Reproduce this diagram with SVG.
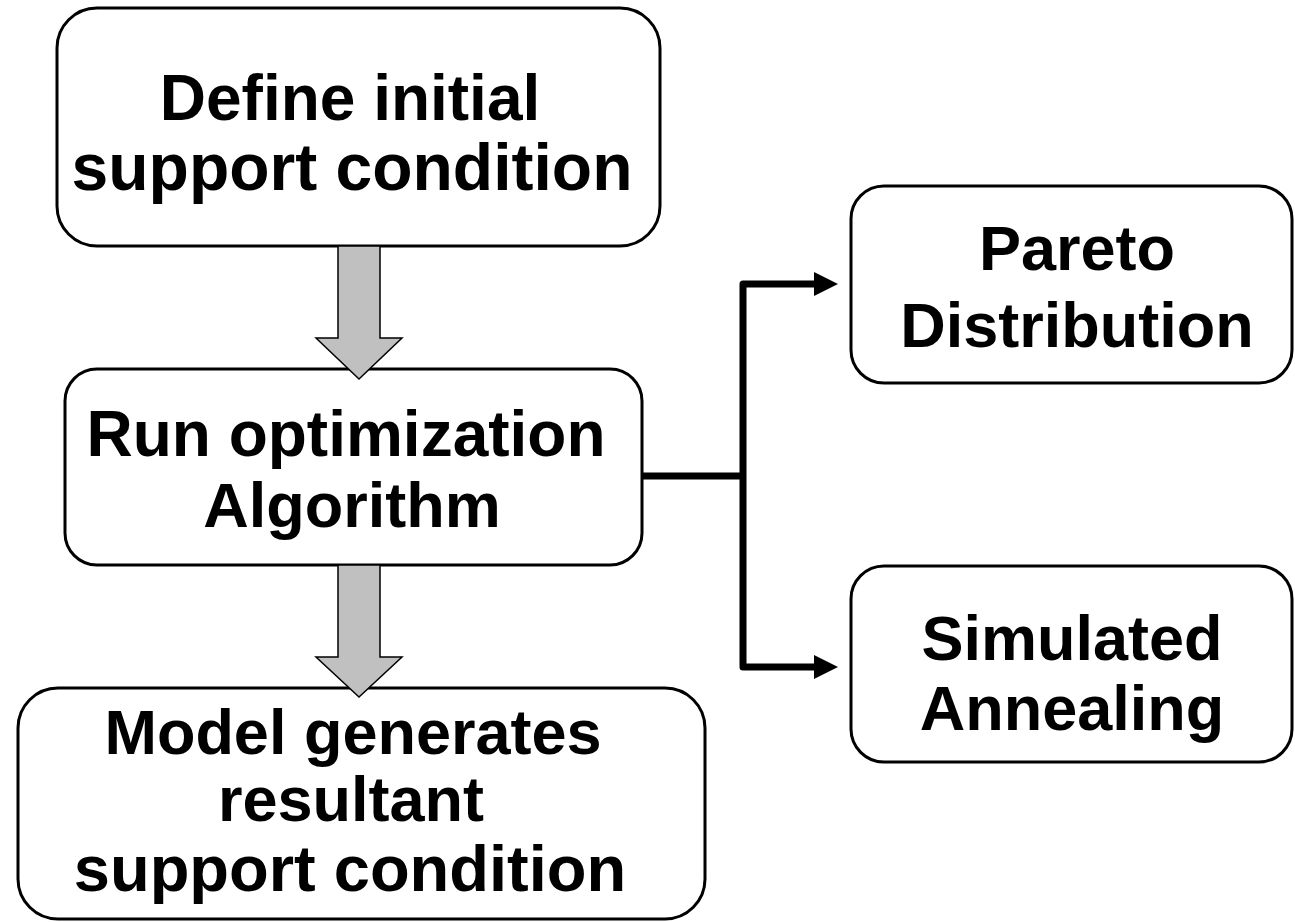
<svg xmlns="http://www.w3.org/2000/svg" width="1295" height="922" viewBox="0 0 1295 922">
  <style>
    .box { fill: #ffffff; stroke: #000000; stroke-width: 3; }
    .lbl { font-family: "Liberation Sans", Arial, sans-serif; font-weight: bold; font-size: 63px; fill: #000000; text-anchor: middle; }
    .flow { fill: #c0c0c0; stroke: #000000; stroke-width: 1.5; stroke-linejoin: miter; }
    .wire { fill: none; stroke: #000000; stroke-width: 7; stroke-linejoin: round; }
  </style>
  <defs>
    <marker id="head" markerUnits="userSpaceOnUse" markerWidth="26" markerHeight="26" refX="0" refY="12" orient="auto">
      <path d="M0,0 L24,12 L0,24 Z" fill="#000000"/>
    </marker>
  </defs>
  <rect width="1295" height="922" fill="#ffffff"/>

  <g id="node-define">
    <rect class="box" x="57" y="8" width="603" height="238" rx="40" ry="40"/>
    <text class="lbl" x="350" y="120" style="font-size:64px">Define initial</text>
    <text class="lbl" x="352" y="190" style="font-size:66px">support condition</text>
  </g>

  <g id="node-run">
    <rect class="box" x="65" y="369" width="577" height="196" rx="32" ry="32"/>
    <text class="lbl" x="346" y="456" style="font-size:64px">Run optimization</text>
    <text class="lbl" x="352" y="527">Algorithm</text>
  </g>

  <g id="node-model">
    <rect class="box" x="18" y="688" width="687" height="231" rx="40" ry="40"/>
    <text class="lbl" x="353" y="754">Model generates</text>
    <text class="lbl" x="351" y="821">resultant</text>
    <text class="lbl" x="350" y="891" style="font-size:65px">support condition</text>
  </g>

  <g id="node-pareto">
    <rect class="box" x="851" y="186" width="441" height="197" rx="33" ry="33"/>
    <text class="lbl" x="1077" y="270">Pareto</text>
    <text class="lbl" x="1077" y="347">Distribution</text>
  </g>

  <g id="node-annealing">
    <rect class="box" x="851" y="566" width="441" height="196" rx="33" ry="33"/>
    <text class="lbl" x="1072" y="660">Simulated</text>
    <text class="lbl" x="1072" y="730">Annealing</text>
  </g>

  <g id="connectors">
    <!-- block arrows between the main steps -->
    <polygon class="flow" points="338,246 380,246 380,338 402,338 359,379 316,338 338,338"/>
    <polygon class="flow" points="338,565 380,565 380,657 402,657 359,697 316,657 338,657"/>
    <!-- branch to the two methods -->
    <path class="wire" d="M643,476 H743"/>
    <path class="wire" d="M743,476 V284 H814" marker-end="url(#head)"/>
    <path class="wire" d="M743,476 V667 H814" marker-end="url(#head)"/>
  </g>
</svg>
